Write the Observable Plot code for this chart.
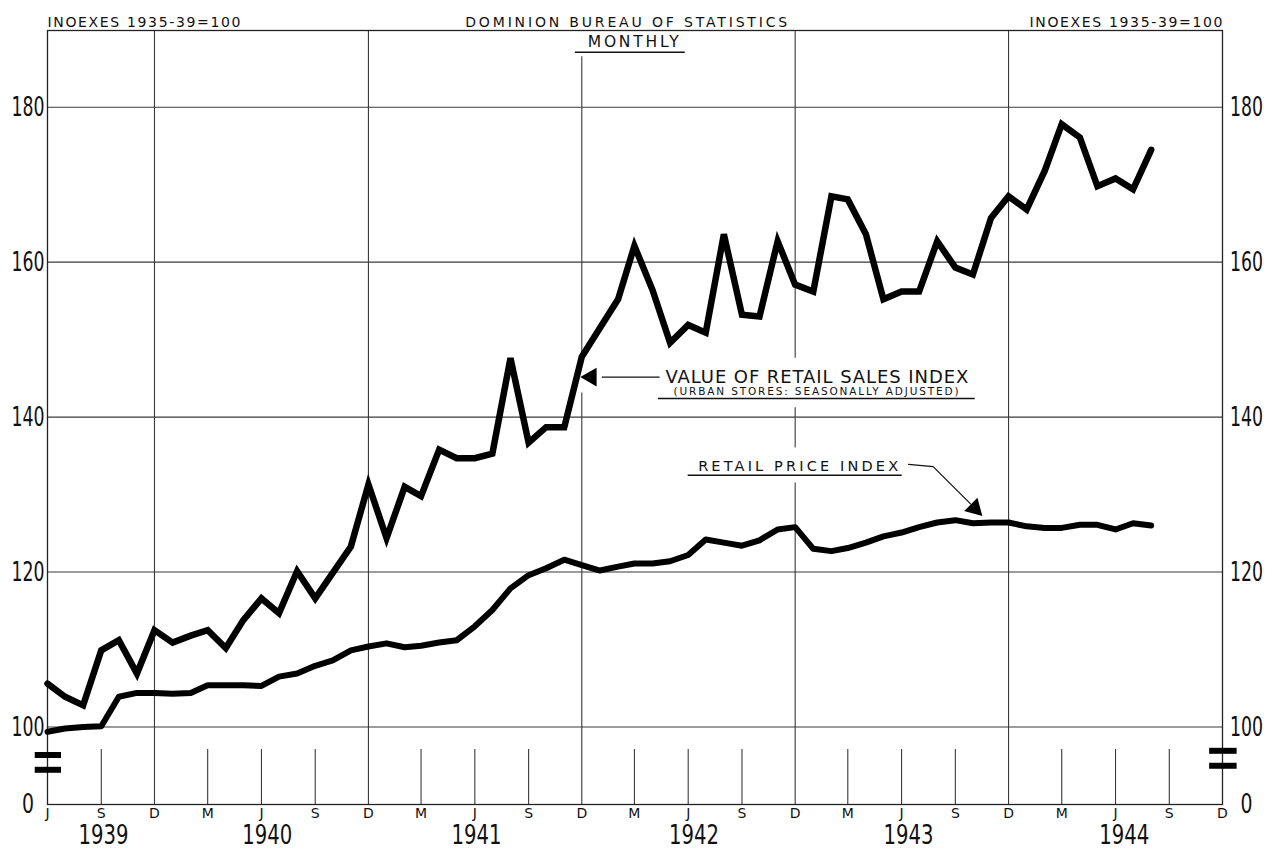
<!DOCTYPE html>
<html>
<head>
<meta charset="utf-8">
<script src="https://cdn.jsdelivr.net/npm/d3@7"></script>
<script src="https://cdn.jsdelivr.net/npm/@observablehq/plot@0.6"></script>
<style>
  html, body { margin: 0; padding: 0; background: #fff; overflow: hidden; }
  #chart { width: 1279px; height: 854px; }
  #chart svg { display: block; }
</style>
</head>
<body>
<div id="chart"></div>
<script>
// ---------- DATA ----------
const startMonth = new Date(Date.UTC(1939, 5, 1));   // June 1939
const endMonth = new Date(Date.UTC(1944, 11, 1));    // December 1944 (axis end)

// Value of retail sales index (urban stores, seasonally adjusted), Jun 1939 - Aug 1944
const salesValues = [
  105.6, 103.9, 102.8, 109.9, 111.2, 106.9, 112.5,
  110.9, 111.8, 112.5, 110.2, 113.8, 116.6, 114.7, 120.1, 116.6, 119.9, 123.3, 131.3,
  124.4, 131.0, 129.8, 135.8, 134.7, 134.7, 135.3, 147.6, 136.7, 138.7, 138.7, 147.8,
  151.5, 155.2, 162.1, 156.4, 149.6, 151.9, 150.9, 163.6, 153.2, 153.0, 162.7, 157.1,
  156.2, 168.5, 168.1, 163.6, 155.2, 156.2, 156.2, 162.7, 159.3, 158.4, 165.7, 168.5,
  166.8, 171.8, 177.8, 176.1, 169.8, 170.8, 169.4, 174.5
];

// Retail price index, Jun 1939 - Aug 1944
const priceValues = [
  99.4, 99.8, 100.0, 100.1, 103.9, 104.4, 104.4,
  104.3, 104.4, 105.4, 105.4, 105.4, 105.3, 106.5, 106.9, 107.9, 108.6, 109.9, 110.4,
  110.8, 110.3, 110.5, 110.9, 111.2, 113.0, 115.1, 117.9, 119.6, 120.5, 121.6, 120.9,
  120.2, 120.7, 121.1, 121.1, 121.4, 122.2, 124.2, 123.8, 123.4, 124.1, 125.5, 125.8,
  123.0, 122.7, 123.1, 123.8, 124.6, 125.1, 125.8, 126.4, 126.7, 126.3, 126.4, 126.4,
  125.9, 125.7, 125.7, 126.1, 126.1, 125.5, 126.3, 126.0
];

const yTickValues = [90, 100, 120, 140, 160, 180];
const yTickLabels = ["0", "100", "120", "140", "160", "180"];
const gridValues = [100, 120, 140, 160, 180];

const monthTickLabels = ["J","S","D","M","J","S","D","M","J","S","D","M","J","S","D","M","J","S","D","M","J","S","D"];
const yearLabels = ["1939", "1940", "1941", "1942", "1943", "1944"];
const yearLabelDates = ["1939-09-05", "1940-06-11", "1941-06-04", "1942-06-11", "1943-06-13", "1944-06-16"];

const headerLeft = "INOEXES 1935-39=100";
const headerRight = "INOEXES 1935-39=100";
const headerCenter = "DOMINION BUREAU OF STATISTICS";
const monthlyLabel = "MONTHLY";
const salesLabel = "VALUE OF RETAIL SALES INDEX";
const salesSubLabel = "(URBAN STORES: SEASONALLY ADJUSTED)";
const priceLabel = "RETAIL PRICE INDEX";

// ---------- DERIVED TABLES ----------
const months = d3.range(salesValues.length).map(i => d3.utcMonth.offset(startMonth, i));
const salesData = months.map((d, i) => ({date: d, value: salesValues[i]}));
const priceData = months.map((d, i) => ({date: d, value: priceValues[i]}));
const monthTicks = monthTickLabels.map((label, i) => ({date: d3.utcMonth.offset(startMonth, 3 * i), label}));
const minorTicks = monthTicks.filter((d, i) => i > 0 && d.date.getUTCMonth() !== 11);
const yLabels = yTickValues.map((v, i) => ({v, label: yTickLabels[i]}));
const years = yearLabels.map((label, i) => ({date: new Date(yearLabelDates[i]), label}));

const D = s => new Date(s);
const TOP = 189.9;
const gridSegments = [
  {date: D("1939-12-01"), y1: 90, y2: TOP},
  {date: D("1940-12-01"), y1: 90, y2: TOP},
  {date: D("1941-12-01"), y1: 90, y2: 143.1},
  {date: D("1941-12-01"), y1: 147.75, y2: 186.5},
  {date: D("1942-12-01"), y1: 90, y2: 131.5},
  {date: D("1942-12-01"), y1: 136.0, y2: 141.2},
  {date: D("1942-12-01"), y1: 147.6, y2: TOP},
  {date: D("1943-12-01"), y1: 90, y2: TOP}
];
const breakBars = [
  {x1: D("1939-05-11"), x2: D("1939-06-25"), y: 96.39},
  {x1: D("1939-05-11"), x2: D("1939-06-25"), y: 94.48},
  {x1: D("1944-11-09"), x2: D("1944-12-26"), y: 96.93},
  {x1: D("1944-11-09"), x2: D("1944-12-26"), y: 95.0}
];
const underlines = [
  {x1: D("1941-11-20"), x2: D("1942-05-27"), y: 187.1},
  {x1: D("1942-04-11"), x2: D("1943-10-05"), y: 142.4},
  {x1: D("1942-06-01"), x2: D("1943-06-02"), y: 132.5}
];
const salesArrowLine = [{x1: D("1942-01-05"), x2: D("1942-04-14"), y: 145.17}];
const priceLeader = [
  {date: D("1943-06-13"), value: 133.9},
  {date: D("1943-07-25"), value: 133.6},
  {date: D("1943-09-27"), value: 128.8}
];
const arrowHeads = [
  {date: D("1941-12-17"), value: 145.17, rotate: -90},
  {date: D("1943-10-04"), value: 128.23, rotate: 135}
];

const FONT = '"DejaVu Sans", "Liberation Sans", sans-serif';
const DIGITS = '"DejaVu Sans Condensed", "Liberation Sans Narrow", "DejaVu Sans", sans-serif';
const INK = "#111";
const GRID = "#3a3a3a";

const chart = Plot.plot({
  width: 1279,
  height: 854,
  marginLeft: 47,
  marginRight: 57,
  marginTop: 30,
  marginBottom: 50,
  style: {background: "#fff", fontFamily: FONT, color: INK},
  x: {type: "utc", domain: [startMonth, endMonth], axis: null},
  y: {type: "linear", domain: [90, TOP], axis: null},
  marks: [
    Plot.ruleY(gridValues, {stroke: GRID, strokeWidth: 1.1}),
    Plot.ruleX(gridSegments, {x: "date", y1: "y1", y2: "y2", stroke: GRID, strokeWidth: 1.1}),
    Plot.ruleX(minorTicks, {x: "date", y1: 90, y2: 97.1, stroke: GRID, strokeWidth: 1.1}),
    Plot.frame({stroke: "#222", strokeWidth: 1.3}),
    Plot.ruleY(breakBars, {x1: "x1", x2: "x2", y: "y", stroke: "#000", strokeWidth: 6}),
    Plot.line(priceData, {x: "date", y: "value", stroke: "#000", strokeWidth: 6, strokeLinejoin: "round"}),
    Plot.line(salesData, {x: "date", y: "value", stroke: "#000", strokeWidth: 6.5, strokeLinejoin: "miter", strokeMiterlimit: 4}),
    // annotation lines
    Plot.ruleY(underlines, {x1: "x1", x2: "x2", y: "y", stroke: INK, strokeWidth: 1.6}),
    Plot.ruleY(salesArrowLine, {x1: "x1", x2: "x2", y: "y", stroke: INK, strokeWidth: 1.2}),
    Plot.line(priceLeader, {x: "date", y: "value", stroke: INK, strokeWidth: 1.2}),
    Plot.dot(arrowHeads, {x: "date", y: "value", symbol: "triangle", r: 7, fill: "#000", stroke: "none", rotate: "rotate"}),
    // y axis labels
    Plot.text(yLabels, {y: "v", text: "label", frameAnchor: "left", dx: -19.5, textAnchor: "middle", fontSize: 27, fontFamily: DIGITS, fill: INK, ariaDescription: "ylab"}),
    Plot.text(yLabels, {y: "v", text: "label", frameAnchor: "right", dx: 24, textAnchor: "middle", fontSize: 27, fontFamily: DIGITS, fill: INK, ariaDescription: "ylab"}),
    // month and year labels
    Plot.text(monthTicks, {x: "date", text: "label", frameAnchor: "bottom", dy: 13, fontSize: 14, fill: INK}),
    Plot.text(years, {x: "date", text: "label", frameAnchor: "bottom", dy: 39, fontSize: 26, fontFamily: DIGITS, fill: INK, ariaDescription: "year"}),
    // headers
    Plot.text([headerLeft], {frameAnchor: "top-left", dy: -13, textAnchor: "start", fontSize: 14, fill: INK, ariaDescription: "hdr"}),
    Plot.text([headerRight], {frameAnchor: "top-right", dy: -13, textAnchor: "end", fontSize: 14, fill: INK, ariaDescription: "hdr"}),
    Plot.text([headerCenter], {x: () => D("1942-02-15"), frameAnchor: "top", dy: -13, textAnchor: "middle", fontSize: 14, fill: INK, ariaDescription: "hdrc"}),
    // annotations
    Plot.text([monthlyLabel], {x: () => D("1942-02-27"), y: () => 188.35, textAnchor: "middle", fontSize: 15.5, fill: INK, ariaDescription: "monthly"}),
    Plot.text([salesLabel], {x: () => D("1942-04-23"), y: () => 145.2, textAnchor: "start", fontSize: 18, fill: INK, ariaDescription: "sales"}),
    Plot.text([salesSubLabel], {x: () => D("1942-05-07"), y: () => 143.24, textAnchor: "start", fontSize: 10.5, fill: INK, ariaDescription: "salessub"}),
    Plot.text([priceLabel], {x: () => D("1942-06-18"), y: () => 133.69, textAnchor: "start", fontSize: 14.5, fill: INK, ariaDescription: "price"})
  ]
});

document.getElementById("chart").appendChild(chart);

// fit lettering widths (hand-lettered chart: spaced capitals, narrow digits)
function fit(desc, lenFn, adjust) {
  d3.select(chart).selectAll(`g[aria-description="${desc}"] text`).each(function() {
    const len = typeof lenFn === "function" ? lenFn(this.textContent) : lenFn;
    this.setAttribute("textLength", len);
    this.setAttribute("lengthAdjust", adjust);
  });
}
fit("ylab", t => t === "0" ? 12 : 33, "spacingAndGlyphs");
fit("year", 50, "spacingAndGlyphs");
fit("hdr", 193, "spacing");
fit("hdrc", 322, "spacing");
fit("monthly", 91, "spacing");
fit("sales", 303, "spacing");
fit("salessub", 285, "spacing");
fit("price", 200, "spacing");
</script>
</body>
</html>
